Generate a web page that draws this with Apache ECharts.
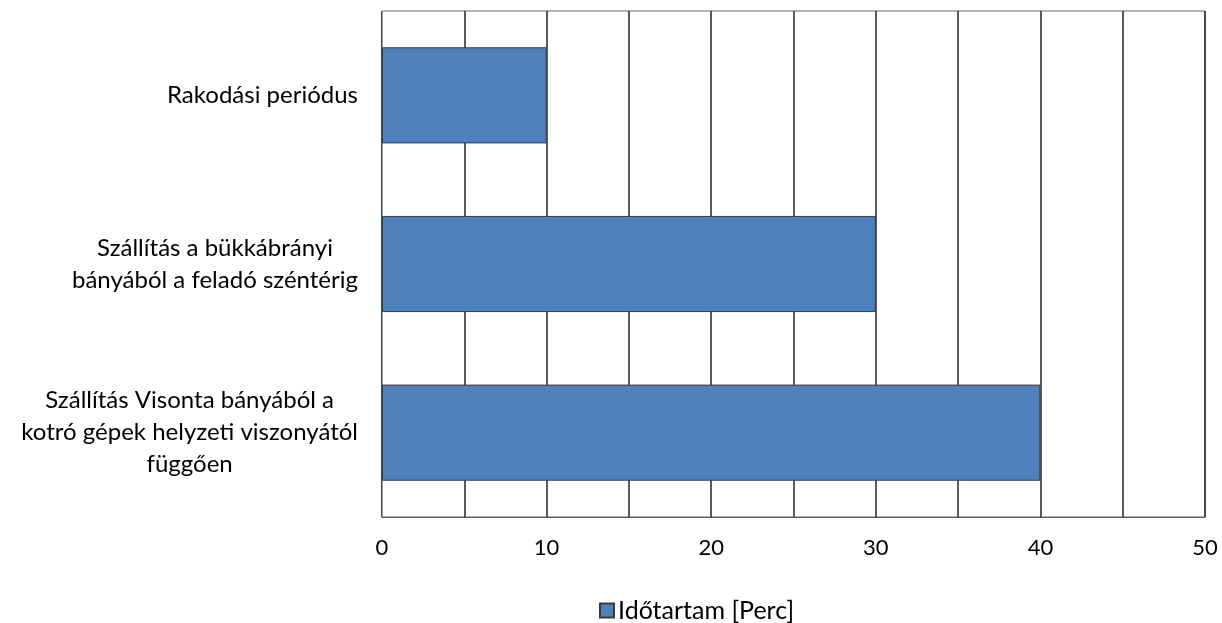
<!DOCTYPE html>
<html>
<head>
<meta charset="utf-8">
<script src="https://cdn.jsdelivr.net/npm/echarts@6/dist/echarts.min.js"></script>
<style>
  html, body { margin: 0; padding: 0; background: #fff; }
  #chart { width: 1222px; height: 623px; }
</style>
</head>
<body>
<div id="chart"></div>
<script>
// Phases of coal delivery and their duration in minutes
const categories = [
  'Rakodási periódus',
  'Szállítás a bükkábrányi\nbányából a feladó széntérig',
  'Szállítás Visonta bányából a\nkotró gépek helyzeti viszonyától\nfüggően'
];
const durations = [10, 30, 40];
const seriesName = 'Időtartam [Perc]';
const xTicks = [0, 10, 20, 30, 40, 50];

const FONT = 'Lato, "Open Sans", sans-serif';
const chart = echarts.init(document.getElementById('chart'));

chart.setOption({
  animation: false,
  backgroundColor: '#ffffff',
  textStyle: { fontFamily: FONT },
  grid: {
    left: 382, right: 17, top: 11, bottom: 106,
    show: true, borderColor: '#6b6b6b', borderWidth: 1
  },
  legend: {
    top: 593,
    left: 594,
    itemWidth: 14, itemHeight: 14,
    itemGap: 6,
    textStyle: { fontSize: 25, color: '#000', fontFamily: FONT, padding: [0, 0, 0, -1] },
    data: [{ name: seriesName, icon: 'rect' }]
  },
  xAxis: {
    type: 'value',
    min: 0, max: 50, interval: 5,
    axisLine: { show: true, lineStyle: { color: '#555', width: 1 } },
    axisTick: { show: false },
    splitLine: { show: true, lineStyle: { color: '#262626', width: 1.5 } },
    axisLabel: {
      margin: 20,
      fontSize: 22,
      color: '#000',
      fontFamily: FONT,
      formatter: v => (xTicks.indexOf(v) >= 0 ? String(v) : '')
    }
  },
  yAxis: {
    type: 'category',
    inverse: true,
    data: categories,
    axisLine: { show: true, lineStyle: { color: '#9a9a9a', width: 1 } },
    axisTick: { show: false },
    axisLabel: {
      margin: 24,
      color: '#000',
      fontSize: 24,
      lineHeight: 32,
      fontFamily: FONT,
      formatter: v => v.split('\n').map(s => '{c|' + s + '}').join('\n'),
      rich: {
        c: { align: 'center', fontSize: 24, lineHeight: 32, color: '#000', fontFamily: FONT }
      }
    }
  },
  series: [{
    name: seriesName,
    type: 'bar',
    data: durations,
    barCategoryGap: '43%',
    itemStyle: { color: '#4F81BD', borderColor: '#3a3a3a', borderWidth: 1 }
  }]
});
</script>
</body>
</html>
